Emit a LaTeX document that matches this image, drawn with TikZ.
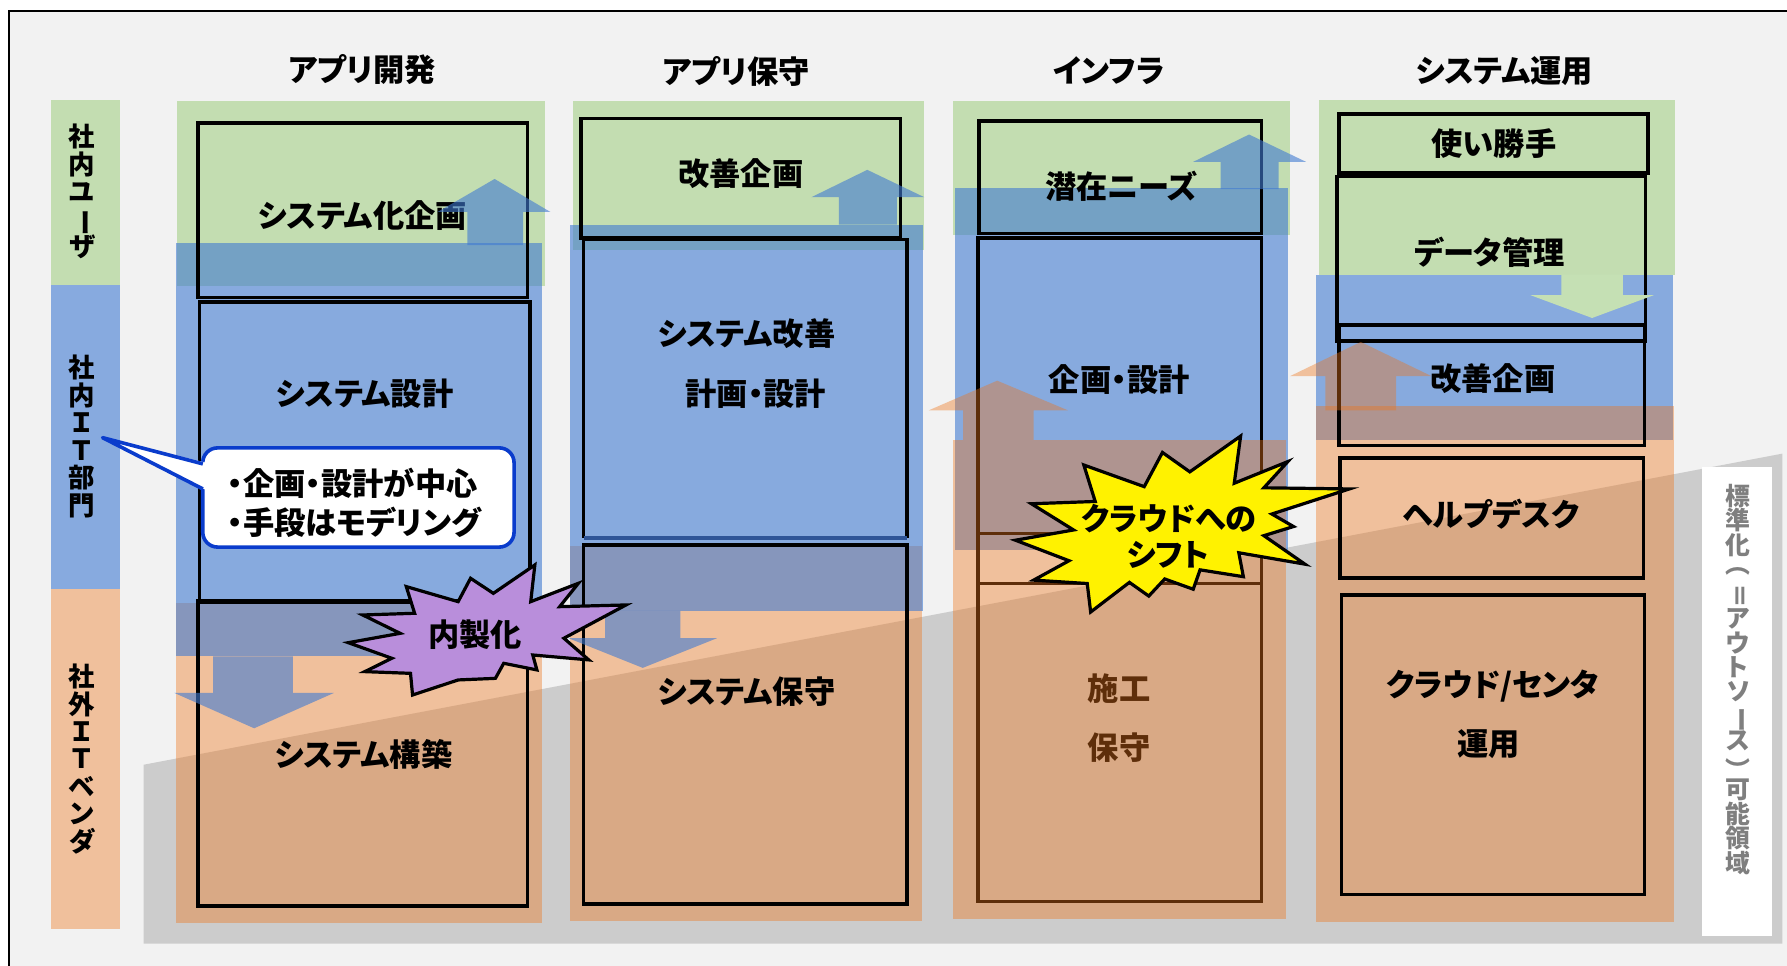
\documentclass[tikz,border=0pt]{standalone}
\usepackage{fontspec}
\usepackage{graphicx}
\setmainfont{Noto Sans CJK JP}[RawFeature=+palt]
\definecolor{bgg}{HTML}{F2F2F2}
\definecolor{grn}{HTML}{C3DDB1}
\definecolor{blu}{HTML}{407AD2}
\definecolor{org}{HTML}{ED751B}
\definecolor{gry}{HTML}{CCCCCC}
\definecolor{lblue}{HTML}{87AADF}
\definecolor{lorg}{HTML}{F0C09C}
\definecolor{purp}{HTML}{B98EDB}
\definecolor{cblue}{HTML}{0A3CCC}
\definecolor{arrgrn}{HTML}{C5E0B4}
\definecolor{lgray}{HTML}{7F7F7F}
\definecolor{dkblue}{HTML}{2F5597}
\newcommand{\rot}[1]{\rotatebox[origin=c]{-90}{#1}}
\setlength{\lineskiplimit}{-10pt}
\begin{document}
\begin{tikzpicture}[x=0.01cm,y=-0.01cm,
  txt/.style={font=\fontsize{7.8}{9}\selectfont\bfseries, inner sep=0pt},
  vlab/.style={font=\fontsize{6.6}{6.85}\selectfont\bfseries, align=center, inner sep=0pt},
  box/.style={draw=black, line width=0.9pt},
  bluelayer/.style={fill=blu, fill opacity=0.6},
  orglayer/.style={fill=org, fill opacity=0.4},
  grnlayer/.style={fill=grn},
  starline/.style={draw=black, line width=0.8pt, line join=miter}]
\useasboundingbox (0,0) rectangle (1568,847);
\fill[white] (0,0) rectangle (1568,847);
\fill[bgg] (7.5,9.5) rectangle (1570,850);
\draw[line width=0.5pt] (7.5,850) -- (7.5,9.5) -- (1570,9.5);
% outsource region
\fill[gry] (126,671) -- (1564,398) -- (1564,828) -- (126,828) -- cycle;
% left labels
\fill[grn] (45,88) rectangle (105,250);
\fill[lblue] (45,250) rectangle (105,517);
\fill[lorg] (45,517) rectangle (105,815);
\node[vlab] (l1) at (72,168) {社\\内\\ユ\\\rot{ー}\\ザ};
\node[vlab] (l2) at (72,383) {社\\内\\Ｉ\\Ｔ\\部\\門};
\node[vlab] (l3) at (72,666) {社\\外\\Ｉ\\Ｔ\\ベ\\ン\\ダ};
% column backgrounds
\fill[grnlayer] (155,89) rectangle (478,251);
\fill[orglayer] (154,529) rectangle (476,810);
\fill[bluelayer] (154,213) rectangle (476,576);
\fill[grnlayer] (503,89) rectangle (811,219);
\fill[orglayer] (500,479) rectangle (809,808);
\fill[bluelayer] (500,197) rectangle (810,536);
\fill[grnlayer] (836,89) rectangle (1132,206);
\fill[bluelayer] (838,165) rectangle (1130,483);
\fill[grnlayer] (1157,88) rectangle (1470,241);
\fill[bluelayer] (1155,241) rectangle (1468,386);
\fill[orglayer] (1155,356) rectangle (1469,809);
% headers
\node[txt] (h1) at (318,61) {アプリ開発};
\node[txt] (h2) at (646,63) {アプリ保守};
\node[txt] (h3) at (973,62) {インフラ};
\node[txt] (h4) at (1320,62) {システム運用};
% column 1 boxes
\draw[box] (174,108) rectangle (463,261);
\draw[box] (175,265) rectangle (465,528);
\draw[box] (174,527) rectangle (463,795);
\node[txt] (c1a) at (318,189) {システム化企画};
\node[txt] (c1b) at (320,345) {システム設計};
\node[txt] (c1c) at (319,662) {システム構築};
% column 2 boxes
\draw[box] (510,104) rectangle (790,209);
\draw[box] (512,472) -- (512,210) -- (796,210) -- (796,472);
\draw[line width=0.9pt, draw=dkblue] (512,472) -- (796,472);
\draw[box] (512,478) rectangle (796,793);
\node[txt] (c2a) at (650,152) {改善企画};
\node[txt] (c2b) at (655,293) {システム改善};
\node[txt] (c2c) at (663,345) {計画・設計};
\node[txt] (c2d) at (655,607) {システム保守};
% column 3 boxes
\draw[box] (859,106) rectangle (1107,205);
\draw[box] (858,209) rectangle (1107,512);
\draw[box] (858,468) rectangle (1107,791);
\node[txt] (c3a) at (984,163) {潜在ニーズ};
\node[txt] (c3b) at (982,333) {企画・設計};
\node[txt] (c3c) at (982,604) {施工};
\node[txt] (c3d) at (982,656) {保守};
\fill[orglayer] (836,386) rectangle (1128,806);
% column 4 boxes
\draw[box] (1175,100) rectangle (1446,152);
\draw[box] (1173,155) rectangle (1444,299);
\draw[box] (1175,285) rectangle (1443,391);
\draw[box] (1176,402) rectangle (1442,507);
\draw[box] (1177,522) rectangle (1443,785);
\node[txt] (c4a) at (1311,126) {使い勝手};
\node[txt] (c4b) at (1307,221) {データ管理};
\node[txt] (c4c) at (1310,332) {改善企画};
\node[txt] (c4d) at (1308,451) {ヘルプデスク};
\node[txt] (c4e) at (1310,602) {クラウド/センタ};
\node[txt] (c4f) at (1306,653) {運用};
% block arrows
\fill[bluelayer] (410,215) -- (410,186) -- (384,186) -- (434,157) -- (483,186) -- (459,186) -- (459,215) -- cycle;
\fill[bluelayer] (736,197) -- (736,173) -- (712,173) -- (761,149) -- (811,173) -- (787,173) -- (787,197) -- cycle;
\fill[bluelayer] (1071,166) -- (1071,142) -- (1047,142) -- (1096,118) -- (1146,142) -- (1122,142) -- (1122,166) -- cycle;
\fill[orglayer] (845,386) -- (845,360) -- (815,360) -- (875,334) -- (937,360) -- (907,360) -- (907,386) -- cycle;
\fill[orglayer] (1163,360) -- (1163,330) -- (1132,330) -- (1194,300) -- (1256,330) -- (1225,330) -- (1225,360) -- cycle;
\fill[bluelayer] (187,576) -- (187,608) -- (153,608) -- (223,639) -- (293,608) -- (257,608) -- (257,576) -- cycle;
\fill[bluelayer] (531,536) -- (531,560) -- (499,560) -- (564,586) -- (629,560) -- (597,560) -- (597,536) -- cycle;
\fill[arrgrn] (1370,241) -- (1370,259) -- (1343,259) -- (1397,279) -- (1451,259) -- (1424,259) -- (1424,241) -- cycle;
% callout
\node[draw=cblue, line width=0.9pt, fill=white, rounded corners=0.13cm, minimum width=2.73cm, minimum height=0.87cm, inner sep=0pt] (callout) at (314.5,436.5) {};
\node[txt, align=left, font=\fontsize{7.8}{9.7}\selectfont\bfseries, anchor=west] (ctext) at (199,441) {・企画・設計が中心\\・手段はモデリング};
\coordinate (ptip) at (90,384);
\coordinate (pa) at (178,407);
\coordinate (pb) at (178,429);
\fill[white] (ptip) -- (181,406) -- (181,430) -- cycle;
\draw[cblue, line width=0.9pt, line join=round] (pa) -- (ptip) -- (pb);
% purple star
\draw[starline, fill=purp] (469.3,495.7) -- (432.9,520.6) -- (412.9,507.4) -- (402,527.9) -- (356.5,514.7) -- (363.8,538.1) -- (318.3,539.6) -- (351.1,555.7) -- (305.6,563.9) -- (343.8,577.6) -- (320.1,589.3) -- (360.2,590.8) -- (362,609.8) -- (402,596.6) -- (434.7,595.2) -- (442,582) -- (471.1,587.8) -- (467.5,574.7) -- (516.6,579) -- (494.8,560) -- (549.3,530.8) -- (491.1,532.3) -- (507.5,511.8) -- (465.7,527.9) -- cycle;
\node[txt] (naisei) at (417,557) {内製化};
% yellow star
\draw[starline, fill=yellow] (1088.6,382.6) -- (1083,424) -- (1130,405) -- (1109,428) -- (1184,429) -- (1116,451) -- (1135,462) -- (1109,470) -- (1145,495) -- (1087,485) -- (1091,506) -- (1053,500) -- (1047,517) -- (1022,508) -- (1008,523) -- (991,511) -- (957,537) -- (954,512) -- (907,509) -- (938,492) -- (891,474) -- (942,465) -- (905,442) -- (961,440) -- (951,408) -- (1004,427) -- (1020,397) -- (1044,414) -- cycle;
\node[txt] (shift1) at (1026,455) {クラウドへの};
\node[txt] (shift2) at (1025,487) {シフト};
% right label
\fill[white] (1493,410) rectangle (1555,821);
\node[vlab, text=lgray, font=\fontsize{6.2}{6.1}\selectfont\bfseries] (rlab) at (1525,596) {標\\準\\化\\\rot{（}\\\rot{＝}\\ア\\ウ\\ト\\ソ\\\rot{ー}\\ス\\\rot{）}\\可\\能\\領\\域};
\end{tikzpicture}
\end{document}
